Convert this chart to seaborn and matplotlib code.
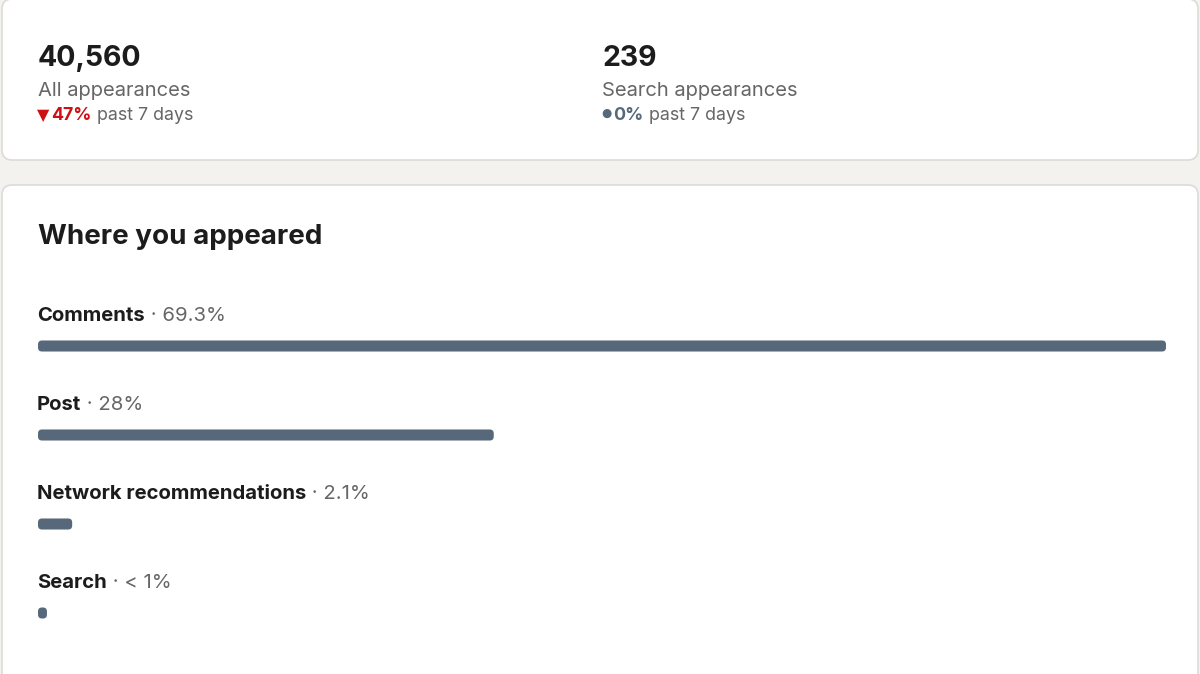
import matplotlib
matplotlib.use("Agg")
import matplotlib.pyplot as plt
import seaborn as sns
import pandas as pd
from matplotlib.patches import FancyBboxPatch

# summary card
summary_values = ["40,560", "239"]
summary_labels = ["All appearances", "Search appearances"]
summary_changes = ["47%", "0%"]
change_suffix = " past 7 days"

# where you appeared
sources = ["Comments", "Post", "Network recommendations", "Search"]
shares = [69.3, 28.0, 2.1, 0.55]
share_labels = ["69.3%", "28%", "2.1%", "< 1%"]

BG = "#f3f2ef"
CARD_EDGE = "#dddbd7"
DARK = "#1c1c1c"
GREY = "#666666"
RED = "#cc1016"
SLATE = "#56687a"

sns.set_theme(style="white")
plt.rcParams["font.family"] = ["Inter", "DejaVu Sans"]

fig = plt.figure(figsize=(12, 6.74), dpi=100)
fig.patch.set_facecolor(BG)

# background axes in pixel units
bg = fig.add_axes([0, 0, 1, 1])
bg.set_xlim(0, 1200)
bg.set_ylim(674, 0)
bg.axis("off")
for y0, h in [(-1, 161), (185, 520)]:
    bg.add_patch(FancyBboxPatch((2, y0), 1196, h,
                                boxstyle="round,pad=0,rounding_size=10",
                                fc="white", ec=CARD_EDGE, lw=1.2))

renderer = fig.canvas.get_renderer()


def text_run(x, y, parts):
    # draw pieces of text one after another on the same baseline
    for s, kw in parts:
        t = bg.text(x, y, s, va="baseline", ha="left", **kw)
        x += t.get_window_extent(renderer).width
    return x


# change line: glyph (size, vertical nudge, gap) then bold % then grey suffix
markers = [("▼", RED, 11.5, 0, 6), ("●", SLATE, 8.5, -3, 6)]
for i, x0 in enumerate([38, 602]):
    bg.text(x0, 66, summary_values[i], fontsize=20.5, weight="bold", color=DARK)
    bg.text(x0, 96, summary_labels[i], fontsize=14.5, color=GREY)
    glyph, col, gs, dy, gap = markers[i]
    t = bg.text(x0 - 1, 120 + dy, glyph, fontsize=gs, color=col,
                family="DejaVu Sans", va="baseline")
    xn = x0 - 1 + t.get_window_extent(renderer).width + gap - 4
    text_run(xn, 120, [
        (summary_changes[i], dict(fontsize=12.8, weight="bold", color=col)),
        (change_suffix, dict(fontsize=12.8, color=GREY)),
    ])

bg.text(38, 244, "Where you appeared", fontsize=20, weight="bold", color=DARK,
        va="baseline")

for i, (name, lab) in enumerate(zip(sources, share_labels)):
    text_run(37, 321 + 89 * i, [
        (name, dict(fontsize=14.6, weight="bold", color=DARK)),
        (" · " + lab, dict(fontsize=14.6, color=GREY)),
    ])

# bars
df = pd.DataFrame({"source": sources, "share": shares})
ax = fig.add_axes([38 / 1200, 1 - 657.5 / 674, 1128 / 1200, 356 / 674])
ax.patch.set_alpha(0)
sns.barplot(data=df, y="source", x="share", color=SLATE, saturation=1,
            width=0.124, ax=ax)
ax.set_xlim(0, max(shares))
ax.set_ylim(3.5, -0.5)
ax.axis("off")

# round the bar corners (~4 px radius)
px_x = max(shares) / 1128
px_y = 1 / 89
for p in list(ax.patches):
    x, y, w, h = p.get_x(), p.get_y(), p.get_width(), p.get_height()
    p.remove()
    ax.add_patch(FancyBboxPatch((x, y), w, h,
                                boxstyle=f"round,pad=0,rounding_size={4 * px_x}",
                                mutation_aspect=px_y / px_x,
                                fc=SLATE, ec="none"))

fig.savefig("out.png", dpi=100, facecolor=BG)
